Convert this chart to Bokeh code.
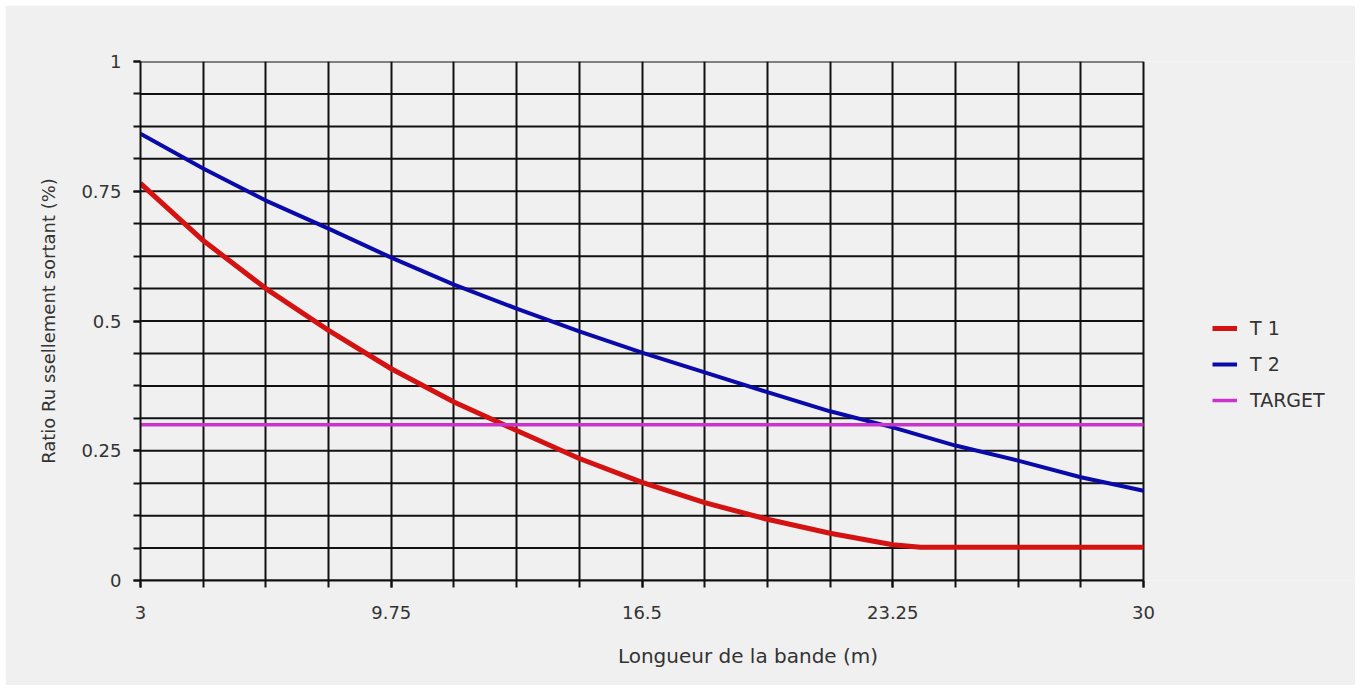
from bokeh.plotting import figure
from bokeh.models import FixedTicker, Legend, LegendItem, Range1d
from bokeh.embed import file_html
from bokeh.resources import INLINE

# ---- data ----
t1_x = [3, 4.6875, 6.375, 8.0625, 9.75, 11.4375, 13.125, 14.8125, 16.5,
        18.1875, 19.875, 21.5625, 23.25, 24.0, 30]
t1_y = [0.765, 0.655, 0.5625, 0.482, 0.408, 0.344, 0.289, 0.235, 0.189,
        0.150, 0.118, 0.091, 0.069, 0.064, 0.064]

t2_x = [3, 4.6875, 6.375, 8.0625, 9.75, 11.4375, 13.125, 14.8125, 16.5,
        18.1875, 19.875, 21.5625, 23.25, 24.9375, 26.625, 28.3125, 30]
t2_y = [0.861, 0.794, 0.732, 0.678, 0.622, 0.570, 0.524, 0.480, 0.439,
        0.401, 0.363, 0.326, 0.295, 0.260, 0.231, 0.199, 0.173]

target_x = [3, 30]
target_y = [0.30, 0.30]

x_labels = [3, 9.75, 16.5, 23.25, 30]
y_labels = [0, 0.25, 0.5, 0.75, 1]
x_grid = [3 + 1.6875 * k for k in range(17)]
y_grid = [0.0625 * k for k in range(17)]
x_min, x_max = 3, 30

FONT = "DejaVu Sans"
BG = "#f0f0f0"
TXT = "#333333"
INK = "#111111"

# The frame is extended to the right edge so the legend (drawn in the frame)
# is not clipped; grid, axis and lines are limited to x in [3, 30].
FRAME_W_DATA = 1003          # pixels used by the 3..30 data span
FRAME_W = 1215               # full frame width
x_end = x_min + (x_max - x_min) * FRAME_W / FRAME_W_DATA

p = figure(width=1350, height=680, output_backend="svg", toolbar_location=None,
           x_range=Range1d(x_min, x_end), y_range=Range1d(0, 1),
           min_border_left=135, min_border_right=0, min_border_top=56,
           min_border_bottom=105, background_fill_color=BG,
           border_fill_color=BG, outline_line_color=None)
p.margin = (5, 5, 5, 5)

# grids: vertical lines from the x grid, horizontal lines limited to 3..30
p.xgrid.ticker = FixedTicker(ticks=x_grid)
p.xgrid.grid_line_color = INK
p.xgrid.grid_line_width = 2
p.ygrid.visible = False
p.segment(x0=[x_min] * len(y_grid), x1=[x_max] * len(y_grid),
          y0=y_grid, y1=y_grid, line_color=INK, line_width=2, level="underlay")

# axes
p.xaxis.ticker = FixedTicker(ticks=x_labels, minor_ticks=x_grid)
p.yaxis.ticker = FixedTicker(ticks=y_labels, minor_ticks=y_grid)
p.xaxis.bounds = (x_min, x_max)
p.xaxis.major_label_overrides = {3: "3", 9.75: "9.75", 16.5: "16.5", 23.25: "23.25", 30: "30"}
p.yaxis.major_label_overrides = {0: "0", 0.25: "0.25", 0.5: "0.5", 0.75: "0.75", 1: "1"}
for ax in (p.xaxis[0], p.yaxis[0]):
    ax.axis_line_color = INK
    ax.axis_line_width = 2
    ax.major_tick_line_color = INK
    ax.minor_tick_line_color = INK
    ax.major_tick_line_width = 2
    ax.minor_tick_line_width = 2
    ax.major_tick_out = 7
    ax.major_tick_in = 0
    ax.minor_tick_out = 7
    ax.minor_tick_in = 0
    ax.major_label_text_font = FONT
    ax.major_label_text_font_size = "18px"
    ax.major_label_text_color = TXT
    ax.axis_label_text_font = FONT
    ax.axis_label_text_font_style = "normal"
    ax.axis_label_text_color = TXT

p.xaxis.axis_label = "Longueur de la bande (m)"
p.xaxis.axis_label_text_font_size = "20px"
p.xaxis.major_label_standoff = 18
p.xaxis.axis_label_standoff = 22
p.yaxis.axis_label = "Ratio Ru ssellement sortant (%)"
p.yaxis.axis_label_text_font_size = "18px"
p.yaxis.major_label_standoff = 12
p.yaxis.axis_label_standoff = 19

# lines
r1 = p.line(t1_x, t1_y, line_color="#d41212", line_width=5)
r2 = p.line(t2_x, t2_y, line_color="#0a0aaa", line_width=4)
r3 = p.line(target_x, target_y, line_color="#cc33cc", line_width=3.5)

legend = Legend(items=[LegendItem(label="T 1", renderers=[r1]),
                       LegendItem(label="T 2", renderers=[r2]),
                       LegendItem(label="TARGET", renderers=[r3])],
                location=(1072, 168), padding=0, margin=0, spacing=12,
                label_height=24, glyph_height=24, glyph_width=25,
                label_standoff=13, border_line_color=None,
                background_fill_alpha=0, label_text_font=FONT,
                label_text_font_size="19px", label_text_color=TXT)
p.add_layout(legend, "center")

open("out.html", "w").write(file_html(p, INLINE))
